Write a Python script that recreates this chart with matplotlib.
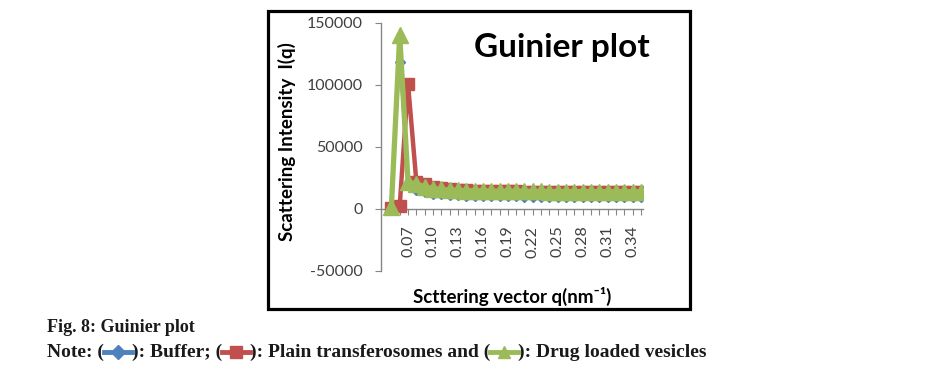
import matplotlib
matplotlib.use("Agg")
import matplotlib.pyplot as plt
from matplotlib.lines import Line2D
from matplotlib.patches import Rectangle
from matplotlib.offsetbox import TextArea, DrawingArea, HPacker, AnchoredOffsetbox

# scattering vector categories (nm^-1)
q = [0.05, 0.06, 0.07, 0.08, 0.09, 0.10, 0.11, 0.12, 0.13, 0.14, 0.15,
     0.16, 0.17, 0.18, 0.19, 0.20, 0.21, 0.22, 0.23, 0.24, 0.25,
     0.26, 0.27, 0.28, 0.29, 0.30, 0.31, 0.32, 0.33, 0.34, 0.35]

buffer_vals = [0, 118500, 20000, 15500, 13500, 12500, 11800, 11300, 11000, 10800, 10600,
               10500, 10400, 10300, 10200, 10100, 10000, 10000, 9900, 9900, 9800,
               9800, 9700, 9700, 9700, 9600, 9600, 9600, 9500, 9500, 9500]
plain_vals = [1000, 2500, 101000, 22000, 20000, 18000, 17000, 16200, 15600, 15200, 14900,
              14700, 14500, 14400, 14300, 14200, 14100, 14000, 14000, 13900, 13900,
              13800, 13800, 13800, 13800, 13700, 13700, 13700, 13700, 13700, 13500]
drug_vals = [2000, 140000, 22000, 20000, 18000, 16500, 15800, 15300, 15000, 14800, 14700,
             14600, 14500, 14400, 14400, 14300, 14300, 14200, 14200, 14100, 14100,
             14100, 14000, 14000, 14000, 14000, 13900, 13900, 13900, 13900, 13900]

x_labels_shown = ["0.07", "0.10", "0.13", "0.16", "0.19", "0.22", "0.25", "0.28", "0.31", "0.34"]
y_ticks = [-50000, 0, 50000, 100000, 150000]
y_labels = ["-50000", "0", "50000", "100000", "150000"]

blue, red, green = "#4F81BD", "#C0504D", "#9BBB59"
sans = ["Lato", "DejaVu Sans"]
serif = ["Liberation Serif", "DejaVu Serif"]

W, H = 934, 367
def fx(px):
    return px / W
def fy(py):
    return 1 - py / H

fig = plt.figure(figsize=(W / 100, H / 100), dpi=100)
ax = fig.add_axes([fx(381), fy(271), fx(643) - fx(381), fy(23) - fy(271)])

# spine position first: moving it resets the tick labels
for s in ["top", "right"]:
    ax.spines[s].set_visible(False)
ax.spines["bottom"].set_position(("data", 0))
for s in ["left", "bottom"]:
    ax.spines[s].set_color("#868686")
    ax.spines[s].set_linewidth(1)

ax.plot(q, buffer_vals, color=blue, lw=1.6, marker="D", ms=5, zorder=3)
ax.plot(q, plain_vals, color=red, lw=3.2, marker="s", ms=8.5, zorder=4)
ax.plot(q, drug_vals, color=green, lw=3.8, marker="^", ms=11, zorder=5)

ax.set_xlim(0.0375, 0.3525)
ax.set_ylim(-50000, 150000)

ax.set_yticks(y_ticks)
ax.set_yticklabels(y_labels, family=sans, fontsize=11.5, color="#404040")
ax.set_xticks(q)
ax.set_xticklabels([f"{v:.2f}" if f"{v:.2f}" in x_labels_shown else "" for v in q],
                   rotation=90, family=sans, fontsize=11.5, color="#404040")
ax.tick_params(axis="y", direction="out", length=4, color="#868686", pad=9)
ax.tick_params(axis="x", direction="out", length=4, color="#868686", pad=8)

# labels and title
fig.text(fx(562), fy(48), "Guinier plot", family=sans, weight="bold", fontsize=24,
         ha="center", va="center")
fig.text(fx(287), fy(142), "Scattering Intensity  I(q)", family=sans, weight="bold",
         fontsize=13.5, rotation=90, ha="center", va="center")
fig.text(fx(512), fy(296), "Scttering vector q(nm\u207b\u00b9)", family=sans, weight="bold",
         fontsize=13.5, ha="center", va="center")

# frame around the chart
fig.patches.append(Rectangle((fx(268), fy(309)), fx(690) - fx(268), fy(11) - fy(309),
                             transform=fig.transFigure, fill=False, lw=2.3, ec="black"))

# caption
cap = dict(family=serif, weight="bold", fontsize=13, color="#1a1a1a")
note = dict(family=serif, weight="bold", fontsize=14, color="#1a1a1a")
fig.text(fx(47), fy(328), "Fig. 8: Guinier plot", va="center", **cap)


def legend_sym(color, marker, ms):
    da = DrawingArea(20, 8, 0, 0)
    da.add_artist(Line2D([0, 20], [4, 4], color=color, lw=3.5))
    da.add_artist(Line2D([10], [4], color=color, marker=marker, ms=ms, lw=0))
    return da


parts = [TextArea("Note: (", textprops=note), legend_sym(blue, "D", 7),
         TextArea("): Buffer; (", textprops=note), legend_sym(red, "s", 8),
         TextArea("): Plain transferosomes and (", textprops=note), legend_sym(green, "^", 9),
         TextArea("): Drug loaded vesicles", textprops=note)]
row = HPacker(children=parts, align="center", pad=0, sep=0)
box = AnchoredOffsetbox(loc="lower left", child=row, pad=0, borderpad=0, frameon=False,
                        bbox_to_anchor=(fx(47), fy(361)), bbox_transform=fig.transFigure)
fig.add_artist(box)

fig.savefig("out.png", dpi=100)
